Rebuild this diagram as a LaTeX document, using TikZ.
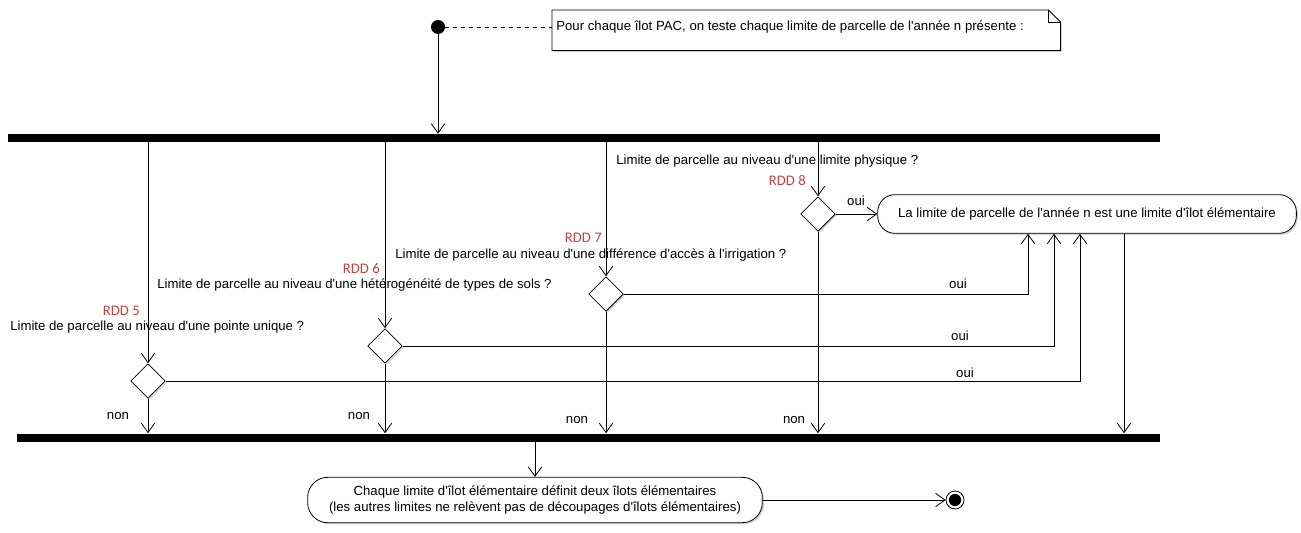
\documentclass[tikz,border=0pt]{standalone}
\usepackage{fontspec}
\setmainfont{Liberation Sans}[Ligatures=TeXOff]
\newfontfamily\rddfont{Carlito}
\usetikzlibrary{arrows.meta,shapes.geometric,shadows,calc}
\definecolor{rddred}{RGB}{196,66,66}
\begin{document}
\begin{tikzpicture}[x=0.75pt,y=-0.75pt,
  font=\fontsize{9.9}{12}\selectfont,
  flow/.style={line width=0.6pt,-{Straight Barb[length=7pt,width=10pt,line width=0.6pt]}},
  plain/.style={line width=0.6pt},
  bar/.style={fill=black,draw=none,inner sep=0,minimum height=6pt},
  shad/.style={drop shadow={shadow xshift=1.2pt,shadow yshift=-1.2pt,opacity=0.35,fill=gray}},
  dec/.style={diamond,draw,line width=0.6pt,fill=white,inner sep=0,minimum width=26pt,minimum height=26pt,shad},
  act/.style={draw,line width=0.6pt,fill=white,rounded corners=13pt,align=center,shad},
  lbl/.style={inner sep=0},
  rdd/.style={inner sep=0,text=rddred,font=\rddfont\fontsize{11}{12}\selectfont}]
\useasboundingbox (0,0) rectangle (1301,532);

% start and note
\node[circle,fill=black,minimum size=10.5pt,inner sep=0] (start) at (438,27) {};
\node[minimum width=381pt,minimum height=30pt,inner sep=0,anchor=north west] (note) at (552,10) {};
\fill[gray,opacity=0.35] ([shift={(1.5,1.5)}]note.north west) -- ([shift={(-10.5,1.5)}]note.north east) -- ([shift={(1.5,13.5)}]note.north east) -- ([shift={(1.5,1.5)}]note.south east) -- ([shift={(1.5,1.5)}]note.south west) -- cycle;
\filldraw[plain,fill=white] (note.north west) -- ([xshift=-9pt]note.north east) -- ([yshift=-9pt]note.north east) -- (note.south east) -- (note.south west) -- cycle;
\draw[plain] ([xshift=-9pt]note.north east) -- ([shift={(-12,12)}]note.north east) -- ([yshift=-9pt]note.north east);
\node[lbl,anchor=west] (notetext) at (556,27) {Pour chaque îlot PAC, on teste chaque limite de parcelle de l'année n présente :};
\draw[plain,dashed] (start) -- (start -| note.west);

% bars
\node[bar,minimum width=864pt] (topbar) at (584,138) {};
\node[bar,minimum width=857.25pt] (botbar) at (588.5,437.5) {};
\draw[flow] (start) -- (start |- topbar.north);

% decisions
\node[dec] (d5) at (148,381) {};
\node[dec] (d6) at (385,346) {};
\node[dec] (d7) at (606,294) {};
\node[dec] (d8) at (818,214) {};

% actions
\node[act,minimum width=314pt,minimum height=29pt] (lim) at (1087,214) {La limite de parcelle de l'année n est une limite d'îlot élémentaire};
\node[act,minimum width=341pt,minimum height=34pt,rounded corners=15pt] (fin) at (535,500) {Chaque limite d'îlot élémentaire définit deux îlots élémentaires\\(les autres limites ne relèvent pas de découpages d'îlots élémentaires)};
\node[circle,draw,line width=0.6pt,fill=white,minimum size=13.5pt,inner sep=0] (stop) at (955,500) {};
\fill (stop) circle (4.6pt);

% from top bar to decisions
\foreach \d in {d5,d6,d7,d8}{
  \draw[flow] (topbar.south -| \d.north) -- (\d.north);
  \draw[flow] (\d.south) -- (\d.south |- botbar.north);
}

% oui branches
\draw[flow] (d8.east) -- (lim.west);
\draw[flow] (d7.east) -| ($(lim.south)+(-59,0)$);
\draw[flow] (d6.east) -| ($(lim.south)+(-33,0)$);
\draw[flow] (d5.east) -| ($(lim.south)+(-7,0)$);
\coordinate (limout) at ($(lim.south)+(37,0)$);
\draw[flow] (limout) -- (limout |- botbar.north);

% to end
\draw[flow] (botbar.south -| fin.north) -- (fin.north);
\draw[flow] (fin.east) -- (stop.west);

% labels
\node[lbl,anchor=west] (q8) at (616,161) {Limite de parcelle au niveau d'une limite physique ?};
\node[rdd,anchor=east] (r8) at (806,181) {RDD 8};
\node[lbl,anchor=west] (q7) at (395,255) {Limite de parcelle au niveau d'une différence d'accès à l'irrigation ?};
\node[rdd,anchor=east] (r7) at (602,238) {RDD 7};
\node[lbl,anchor=west] (q6) at (157,285) {Limite de parcelle au niveau d'une hétérogénéité de types de sols ?};
\node[rdd,anchor=east] (r6) at (380,269) {RDD 6};
\node[lbl,anchor=west] (q5) at (10,327) {Limite de parcelle au niveau d'une pointe unique ?};
\node[rdd,anchor=east] (r5) at (140,311) {RDD 5};

\node[lbl] (n5) at (118,416) {non};
\node[lbl] (n6) at (359,416) {non};
\node[lbl] (n7) at (577,420) {non};
\node[lbl] (n8) at (794,420) {non};

\node[lbl] (o8) at (856,201) {oui};
\node[lbl] (o7) at (958,284) {oui};
\node[lbl] (o6) at (960,336) {oui};
\node[lbl] (o5) at (965,373) {oui};
\end{tikzpicture}
\end{document}
